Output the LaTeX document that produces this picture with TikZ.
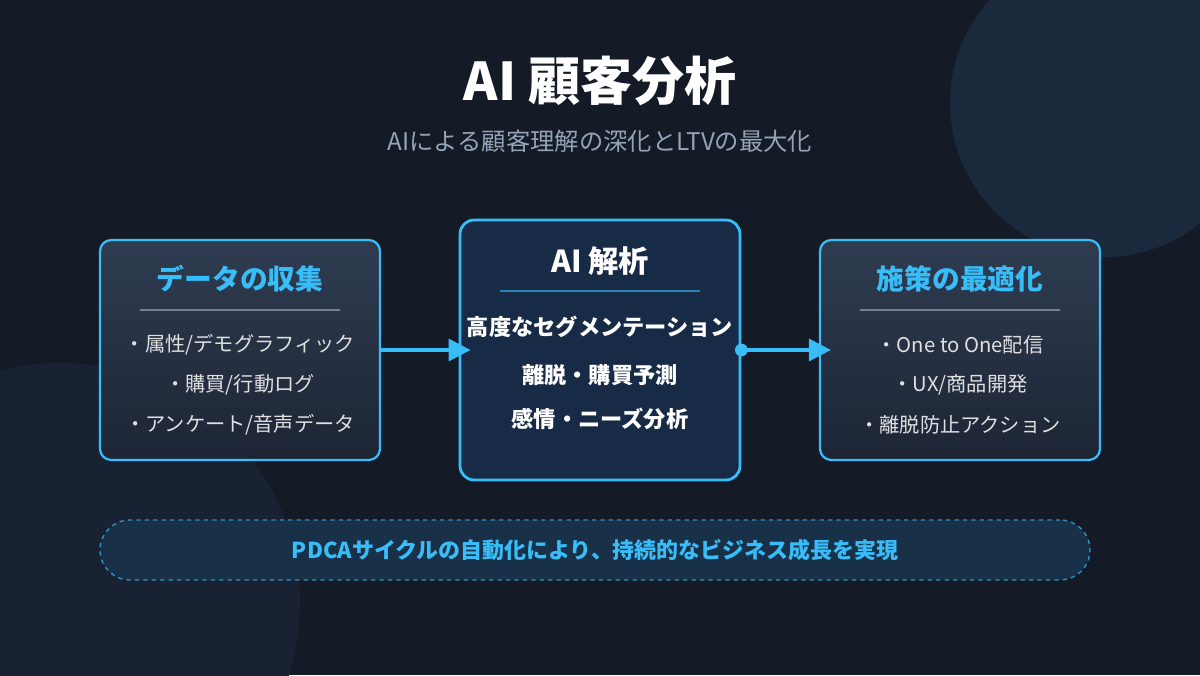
\documentclass[tikz,border=0pt]{standalone}
\usepackage{fontspec}
\setmainfont{Noto Sans CJK JP}
\usetikzlibrary{arrows.meta,positioning,shadings}
\definecolor{bgdark}{HTML}{141A26}
\definecolor{bgblob}{HTML}{1B293D}
\definecolor{accent}{HTML}{38BDF8}
\definecolor{subgray}{HTML}{94A3B8}
\definecolor{boxtop}{HTML}{2F3C50}
\definecolor{boxbot}{HTML}{1D2535}
\definecolor{midfill}{HTML}{172B46}
\definecolor{banfill}{HTML}{193049}
\tikzset{
  sidebox/.style={draw=accent, line width=1.6pt, rounded corners=8pt, top color=boxtop, bottom color=boxbot, minimum width=7cm, minimum height=5.5cm},
  midbox/.style={draw=accent, line width=2pt, rounded corners=10pt, fill=midfill, minimum width=7cm, minimum height=6.5cm},
  head/.style={text=accent, font=\fontsize{19.7}{23}\selectfont\bfseries},
  item/.style={text=white!88!black, font=\fontsize{14.4}{17}\selectfont},
  aiitem/.style={text=white, font=\fontsize{15.8}{19}\selectfont\bfseries},
  flow/.style={-{Triangle[length=0.55cm,width=0.55cm]}, accent, line width=2.5pt}
}
\begin{document}
\begin{tikzpicture}
    % background
    \fill[bgdark] (0,0) rectangle (30,16.875);
    \begin{scope}
      \clip (0,0) rectangle (30,16.875);
      \fill[bgblob] (27.6,14.3) circle (3.85);
      \fill[bgblob!55!bgdark] (1.5,1.8) circle (6);
    \end{scope}

    % title
    \node[text=white, font=\fontsize{37}{43}\selectfont\bfseries] (title) at (15,14.85) {AI 顧客分析};
    \node[text=subgray, font=\fontsize{17.3}{20}\selectfont] (subtitle) at (15,13.35) {AIによる顧客理解の深化とLTVの最大化};

    % the three boxes
    \node[sidebox] (collect) at (6,8.125) {};
    \node[midbox] (ai) at (15,8.125) {};
    \node[sidebox] (action) at (24,8.125) {};

    % left box
    \node[head] (collecthead) at (6,9.9) {データの収集};
    \draw[white!35!boxtop, line width=0.8pt] (3.5,9.125) -- (8.5,9.125);
    \node[item] (c1) at (6,8.25) {・属性/デモグラフィック};
    \node[item] (c2) at (6,7.25) {・購買/行動ログ};
    \node[item] (c3) at (6,6.25) {・アンケート/音声データ};

    % center box
    \node[text=white, font=\fontsize{21.5}{25}\selectfont\bfseries] (aihead) at (15,10.35) {AI 解析};
    \draw[accent!60!midfill, line width=1pt] (12.5,9.6) -- (17.5,9.6);
    \node[aiitem] (a1) at (15,8.7) {高度なセグメンテーション};
    \node[aiitem] (a2) at (15,7.5) {離脱・購買予測};
    \node[aiitem] (a3) at (15,6.4) {感情・ニーズ分析};

    % right box
    \node[head] (actionhead) at (24,9.9) {施策の最適化};
    \draw[white!35!boxtop, line width=0.8pt] (21.5,9.125) -- (26.5,9.125);
    \node[item] (r1) at (24,8.25) {・One to One配信};
    \node[item] (r2) at (24,7.25) {・UX/商品開発};
    \node[item] (r3) at (24,6.25) {・離脱防止アクション};

    % connectors
    \draw[flow] (collect.east) -- ([xshift=0.3cm]ai.west);
    \fill[accent] (ai.east) circle (0.16);
    \draw[flow] (ai.east) -- ([xshift=0.3cm]action.west);

    % banner
    \node[draw=accent!70!banfill, dashed, line width=1pt, fill=banfill, rounded corners=0.75cm, minimum width=24.75cm, minimum height=1.5cm, text=accent, font=\fontsize{15.6}{18}\selectfont\bfseries] (banner) at (14.875,3.125) {PDCAサイクルの自動化により、持続的なビジネス成長を実現};
\end{tikzpicture}
\end{document}
